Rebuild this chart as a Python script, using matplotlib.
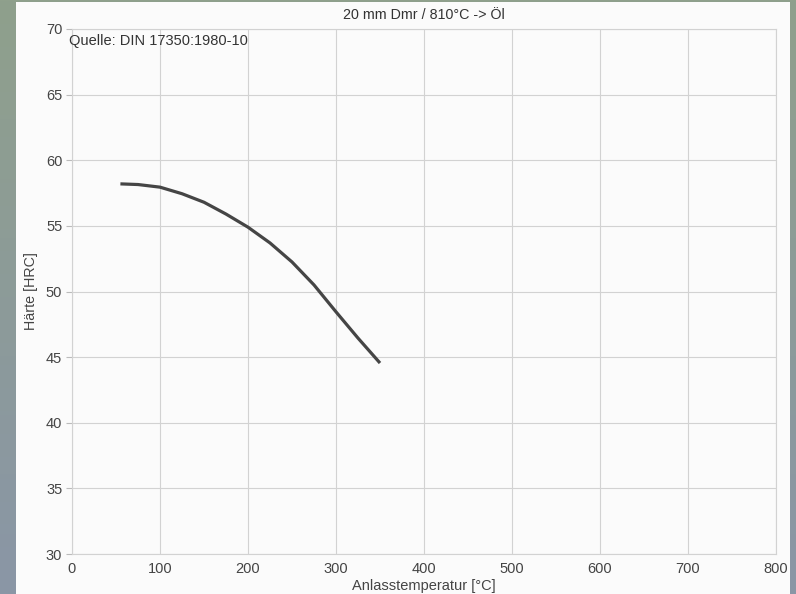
import numpy as np
import matplotlib.pyplot as plt
from matplotlib.patches import Rectangle

plt.rcParams['font.family'] = ['Liberation Sans', 'DejaVu Sans']

# tempering temperature [°C] vs hardness [HRC]
temp = [55, 75, 100, 125, 150, 175, 200, 225, 250, 275, 300, 325, 350]
hrc = [58.2, 58.15, 57.95, 57.45, 56.8, 55.9, 54.9, 53.7, 52.25, 50.5, 48.45, 46.45, 44.55]

xticks = [0, 100, 200, 300, 400, 500, 600, 700, 800]
yticks = [30, 35, 40, 45, 50, 55, 60, 65, 70]

fig = plt.figure(figsize=(7.96, 5.94), dpi=100)

# slide-like gradient background
bg = fig.add_axes([0, 0, 1, 1], zorder=-2)
top = np.array([143, 160, 140]) / 255
bot = np.array([138, 150, 166]) / 255
t = np.linspace(0, 1, 256)[:, None]
grad = (top * (1 - t) + bot * t)[:, None, :]
bg.imshow(grad, aspect='auto', extent=[0, 1, 0, 1])
bg.set_axis_off()
bg.add_patch(Rectangle((16 / 796, 0), (790 - 16) / 796, 1 - 2 / 594,
                       facecolor='#fbfbfb', edgecolor='none', transform=bg.transAxes))

ax = fig.add_axes([72 / 796, 1 - 554 / 594, (776 - 72) / 796, (554 - 29) / 594])
ax.set_facecolor('none')
ax.plot(temp, hrc, color='#454545', lw=2.3, solid_capstyle='butt', solid_joinstyle='round')

ax.set_xlim(0, 800)
ax.set_ylim(30, 70)
ax.set_xticks(xticks)
ax.set_yticks(yticks)
ax.grid(True, color='#d2d2d2', lw=0.8)
for s in ax.spines.values():
    s.set_color('#d2d2d2')
    s.set_linewidth(0.8)
ax.tick_params(axis='y', length=4, color='#bbbbbb', labelsize=10.5, labelcolor='#444444', pad=3)
ax.tick_params(axis='x', length=0, labelsize=10.5, labelcolor='#444444', pad=6)

ax.set_title('20 mm Dmr / 810°C -> Öl', fontsize=10.3, color='#333333', pad=7)
ax.set_xlabel('Anlasstemperatur [°C]', fontsize=10.5, color='#444444', labelpad=2)
ax.set_ylabel('Härte [HRC]', fontsize=10.3, color='#444444', labelpad=6)
ax.text(-3 / 704, 1 - 5 / 525, 'Quelle: DIN 17350:1980-10', transform=ax.transAxes,
        fontsize=10.5, color='#333333', va='top', ha='left')

fig.savefig('out.png', dpi=100)
